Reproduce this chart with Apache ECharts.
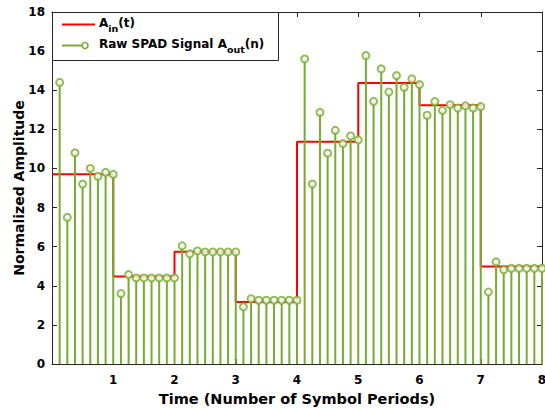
<!DOCTYPE html>
<html>
<head>
<meta charset="utf-8">
<script src="https://cdn.jsdelivr.net/npm/echarts@6/dist/echarts.min.js"></script>
<style>html,body{margin:0;padding:0;background:#fff;}#c{width:545px;height:409px;}</style>
</head>
<body>
<div id="c"></div>
<script>
// Input amplitude level per symbol period (period i spans (i-1, i])
const periodEdges = [0, 1, 2, 3, 4, 5, 6, 7, 8];
const inputLevels = [9.7, 4.47, 5.74, 3.17, 11.37, 14.37, 13.23, 4.99];

// Sample times (8 samples per symbol period)
const sampleTimes = [
  0.125, 0.25, 0.375, 0.5, 0.625, 0.75, 0.875, 1.0,
  1.125, 1.25, 1.375, 1.5, 1.625, 1.75, 1.875, 2.0,
  2.125, 2.25, 2.375, 2.5, 2.625, 2.75, 2.875, 3.0,
  3.125, 3.25, 3.375, 3.5, 3.625, 3.75, 3.875, 4.0,
  4.125, 4.25, 4.375, 4.5, 4.625, 4.75, 4.875, 5.0,
  5.125, 5.25, 5.375, 5.5, 5.625, 5.75, 5.875, 6.0,
  6.125, 6.25, 6.375, 6.5, 6.625, 6.75, 6.875, 7.0,
  7.125, 7.25, 7.375, 7.5, 7.625, 7.75, 7.875, 8.0
];
// Raw SPAD output samples
const rawSignal = [
  14.4, 7.5, 10.8, 9.2, 10.0, 9.6, 9.8, 9.7,
  3.6, 4.57, 4.4, 4.4, 4.4, 4.4, 4.4, 4.4,
  6.04, 5.63, 5.78, 5.73, 5.73, 5.73, 5.73, 5.73,
  2.92, 3.34, 3.26, 3.26, 3.26, 3.26, 3.26, 3.26,
  15.6, 9.2, 12.87, 10.78, 11.95, 11.27, 11.66, 11.46,
  15.77, 13.43, 15.09, 13.91, 14.75, 14.15, 14.58, 14.29,
  12.72, 13.42, 12.97, 13.26, 13.09, 13.2, 13.09, 13.16,
  3.68, 5.22, 4.82, 4.89, 4.89, 4.89, 4.89, 4.89
];
const yTicks = [0, 2, 4, 6, 8, 10, 12, 14, 16, 18];
const xTicks = [1, 2, 3, 4, 5, 6, 7, 8];

const GREEN = '#77AC30';
const RED = '#FF0000';
const AXC = '#262626';
const FONT = 'DejaVu Sans';

const stepData = [];
inputLevels.forEach((v, i) => {
  stepData.push([periodEdges[i], v]);
  stepData.push([periodEdges[i + 1], v]);
});
const stemData = sampleTimes.map((t, i) => [t, rawSignal[i]]);

const chart = echarts.init(document.getElementById('c'), null, {renderer: 'svg'});

const axisCommon = {
  type: 'value',
  splitLine: {show: false},
  axisLine: {show: true, onZero: false, lineStyle: {color: AXC, width: 1}},
  axisTick: {show: true, inside: true, length: 5, lineStyle: {color: AXC, width: 1}}
};
const labelStyle = {color: '#000', fontFamily: FONT, fontWeight: 'bold', fontSize: 12};

chart.setOption({
  animation: false,
  backgroundColor: '#fff',
  grid: {left: 52, right: 3, top: 12, bottom: 45, containLabel: false, outerBoundsMode: 'none'},
  xAxis: [
    Object.assign({}, axisCommon, {
      position: 'bottom', min: 0, max: 8, interval: 1,
      axisLabel: Object.assign({}, labelStyle, {showMinLabel: false, margin: 10,
        formatter: v => (xTicks.indexOf(v) >= 0 ? String(v) : '')}),
      name: 'Time (Number of Symbol Periods)', nameLocation: 'middle', nameGap: 27,
      nameMoveOverlap: false,
      nameTextStyle: {color: '#000', fontFamily: FONT, fontWeight: 'bold', fontSize: 14.5}
    }),
    Object.assign({}, axisCommon, {
      position: 'top', min: 0, max: 8, interval: 1, axisLabel: {show: false}
    })
  ],
  yAxis: [
    Object.assign({}, axisCommon, {
      position: 'left', min: 0, max: 18, interval: 2,
      axisLabel: Object.assign({}, labelStyle, {margin: 7,
        formatter: v => (yTicks.indexOf(v) >= 0 ? String(v) : '')}),
      name: 'Normalized Amplitude', nameLocation: 'middle', nameGap: 26,
      nameMoveOverlap: false,
      nameTextStyle: {color: '#000', fontFamily: FONT, fontWeight: 'bold', fontSize: 14}
    }),
    Object.assign({}, axisCommon, {
      position: 'right', min: 0, max: 18, interval: 2, axisLabel: {show: false}
    })
  ],
  series: [
    {
      name: 'A_in(t)', type: 'line', data: stepData, showSymbol: false, z: 2,
      lineStyle: {color: RED, width: 2}, itemStyle: {color: RED}
    },
    {
      name: 'stems', type: 'custom', data: stemData, z: 3,
      encode: {x: 0, y: 1},
      renderItem: (params, api) => {
        const p0 = api.coord([api.value(0), 0]);
        const p1 = api.coord([api.value(0), api.value(1)]);
        return {type: 'line', shape: {x1: p0[0], y1: p0[1], x2: p1[0], y2: p1[1]},
          style: {stroke: GREEN, lineWidth: 2}};
      }
    },
    {
      name: 'Raw SPAD Signal', type: 'scatter', data: stemData, z: 4,
      symbol: 'emptyCircle', symbolSize: 7,
      itemStyle: {color: GREEN, borderColor: GREEN, borderWidth: 1.6}
    }
  ],
  graphic: [
    {type: 'rect', z: 100, shape: {x: 52.5, y: 12.5, width: 226, height: 48},
      style: {fill: '#fff', stroke: AXC, lineWidth: 1}},
    {type: 'line', z: 101, shape: {x1: 62, y1: 24.5, x2: 95, y2: 24.5}, style: {stroke: RED, lineWidth: 2}},
    {type: 'text', z: 101, x: 99, y: 25, style: {
      text: '{b|A}{s|in}{b|(t)}', verticalAlign: 'middle', fill: '#000',
      rich: {
        b: {fontFamily: FONT, fontWeight: 'bold', fontSize: 12, fill: '#000', verticalAlign: 'top', lineHeight: 17},
        s: {fontFamily: FONT, fontWeight: 'bold', fontSize: 9.5, fill: '#000', verticalAlign: 'bottom', lineHeight: 11, padding: [8, 0, 0, 0]}
      }}},
    {type: 'line', z: 101, shape: {x1: 62, y1: 45.5, x2: 85, y2: 45.5}, style: {stroke: GREEN, lineWidth: 2}},
    {type: 'circle', z: 102, shape: {cx: 85, cy: 45.5, r: 3}, style: {fill: '#fff', stroke: GREEN, lineWidth: 1.6}},
    {type: 'text', z: 101, x: 99, y: 46, style: {
      text: '{b|Raw SPAD Signal A}{s|out}{b|(n)}', verticalAlign: 'middle', fill: '#000',
      rich: {
        b: {fontFamily: FONT, fontWeight: 'bold', fontSize: 12, fill: '#000', verticalAlign: 'top', lineHeight: 17},
        s: {fontFamily: FONT, fontWeight: 'bold', fontSize: 9.5, fill: '#000', verticalAlign: 'bottom', lineHeight: 11, padding: [8, 0, 0, 0]}
      }}}
  ]
});
</script>
</body>
</html>
